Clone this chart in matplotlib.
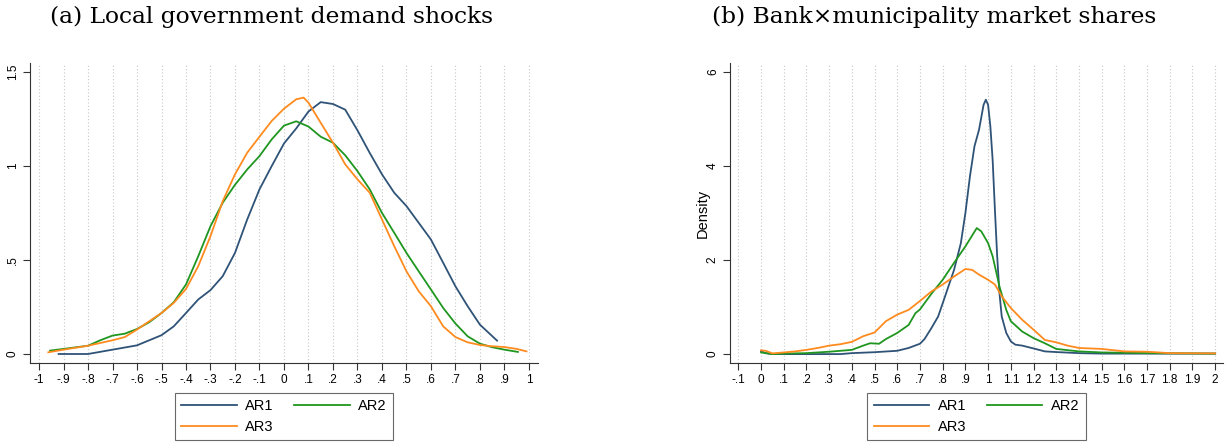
import matplotlib
matplotlib.use('Agg')
import matplotlib.pyplot as plt

# === Daten: Panel (a) ===
a_ar1_x = [-0.92, -0.8, -0.7, -0.6, -0.5, -0.45, -0.4, -0.35, -0.3, -0.25, -0.2, -0.15, -0.1, -0.05,
           0.0, 0.05, 0.1, 0.15, 0.2, 0.25, 0.3, 0.35, 0.4, 0.45, 0.5, 0.55, 0.6, 0.65, 0.7, 0.75, 0.8, 0.87]
a_ar1_y = [0.0, 0.0, 0.023, 0.046, 0.10, 0.147, 0.218, 0.29, 0.34, 0.414, 0.538, 0.716, 0.876, 1.0,
           1.12, 1.20, 1.29, 1.34, 1.33, 1.30, 1.19, 1.07, 0.956, 0.858, 0.787, 0.698, 0.609, 0.485, 0.36, 0.254, 0.156, 0.071]

a_ar2_x = [-0.955, -0.9, -0.8, -0.75, -0.7, -0.65, -0.6, -0.55, -0.5, -0.45, -0.4, -0.35, -0.3, -0.25, -0.2,
           -0.15, -0.1, -0.05, 0.0, 0.05, 0.1, 0.15, 0.2, 0.25, 0.3, 0.35, 0.4, 0.45, 0.5, 0.55, 0.6, 0.65,
           0.7, 0.75, 0.8, 0.85, 0.9, 0.955]
a_ar2_y = [0.018, 0.027, 0.044, 0.073, 0.098, 0.108, 0.133, 0.169, 0.218, 0.275, 0.37, 0.52, 0.68, 0.805, 0.90,
           0.982, 1.053, 1.142, 1.215, 1.238, 1.21, 1.156, 1.124, 1.057, 0.973, 0.876, 0.751, 0.645, 0.538, 0.44,
           0.343, 0.245, 0.162, 0.094, 0.055, 0.036, 0.023, 0.011]

a_ar3_x = [-0.962, -0.9, -0.8, -0.7, -0.65, -0.6, -0.55, -0.5, -0.45, -0.4, -0.35, -0.3, -0.25, -0.2, -0.15,
           -0.1, -0.05, 0.0, 0.05, 0.08, 0.1, 0.15, 0.2, 0.25, 0.3, 0.35, 0.4, 0.45, 0.5, 0.55, 0.6, 0.65,
           0.7, 0.75, 0.8, 0.85, 0.9, 0.95, 0.99]
a_ar3_y = [0.009, 0.023, 0.044, 0.073, 0.09, 0.13, 0.174, 0.218, 0.272, 0.346, 0.467, 0.627, 0.813, 0.956, 1.071,
           1.156, 1.24, 1.305, 1.355, 1.364, 1.337, 1.23, 1.124, 1.009, 0.929, 0.858, 0.716, 0.574, 0.44, 0.334,
           0.254, 0.147, 0.09, 0.062, 0.048, 0.041, 0.037, 0.027, 0.014]

# === Daten: Panel (b) ===
b_ar1_x = [0.0, 0.02, 0.05, 0.2, 0.35, 0.4, 0.5, 0.6, 0.65, 0.7, 0.72, 0.75, 0.78, 0.8, 0.85, 0.88, 0.9,
           0.92, 0.94, 0.96, 0.98, 0.99, 1.0, 1.01, 1.02, 1.03, 1.04, 1.05, 1.06, 1.08, 1.1, 1.12, 1.15,
           1.2, 1.25, 1.3, 1.4, 1.5, 1.7, 2.0]
b_ar1_y = [0.057, 0.02, 0.0, 0.0, 0.0, 0.02, 0.04, 0.07, 0.13, 0.22, 0.32, 0.55, 0.8, 1.08, 1.79, 2.36, 3.0,
           3.78, 4.42, 4.77, 5.3, 5.41, 5.3, 4.84, 4.13, 3.07, 2.08, 1.30, 0.80, 0.45, 0.27, 0.2, 0.18,
           0.12, 0.057, 0.043, 0.02, 0.01, 0.01, 0.01]

b_ar2_x = [0.0, 0.05, 0.1, 0.2, 0.3, 0.35, 0.4, 0.45, 0.48, 0.52, 0.55, 0.6, 0.65, 0.68, 0.7, 0.75, 0.8,
           0.85, 0.9, 0.95, 0.97, 1.0, 1.02, 1.05, 1.08, 1.1, 1.15, 1.2, 1.25, 1.3, 1.4, 1.5, 1.7, 2.0]
b_ar2_y = [0.035, 0.0, 0.01, 0.02, 0.05, 0.07, 0.09, 0.18, 0.23, 0.22, 0.32, 0.45, 0.62, 0.87, 0.95, 1.28, 1.58,
           1.94, 2.29, 2.68, 2.61, 2.36, 2.08, 1.44, 0.94, 0.70, 0.48, 0.34, 0.23, 0.11, 0.057, 0.035, 0.02, 0.01]

b_ar3_x = [0.0, 0.02, 0.05, 0.1, 0.15, 0.2, 0.25, 0.3, 0.35, 0.4, 0.45, 0.5, 0.55, 0.6, 0.65, 0.7, 0.75,
           0.8, 0.85, 0.9, 0.93, 0.96, 1.0, 1.03, 1.06, 1.1, 1.15, 1.2, 1.25, 1.3, 1.35, 1.4, 1.5, 1.6,
           1.7, 1.8, 2.0]
b_ar3_y = [0.08, 0.07, 0.015, 0.035, 0.057, 0.09, 0.13, 0.18, 0.21, 0.26, 0.38, 0.46, 0.70, 0.84, 0.94, 1.13, 1.33,
           1.48, 1.65, 1.81, 1.79, 1.69, 1.58, 1.48, 1.23, 0.98, 0.73, 0.52, 0.30, 0.25, 0.18, 0.13, 0.11, 0.057,
           0.05, 0.02, 0.015]

# Ticks
a_xticks = [round(-1 + 0.1 * i, 1) for i in range(21)]
a_xlabels = ['-1', '-.9', '-.8', '-.7', '-.6', '-.5', '-.4', '-.3', '-.2', '-.1', '0',
             '.1', '.2', '.3', '.4', '.5', '.6', '.7', '.8', '.9', '1']
a_yticks = [0, 0.5, 1, 1.5]
a_ylabels = ['0', '.5', '1', '1.5']

b_xticks = [round(-0.1 + 0.1 * i, 1) for i in range(22)]
b_xlabels = ['-.1', '0', '.1', '.2', '.3', '.4', '.5', '.6', '.7', '.8', '.9', '1',
             '1.1', '1.2', '1.3', '1.4', '1.5', '1.6', '1.7', '1.8', '1.9', '2']
b_yticks = [0, 2, 4, 6]
b_ylabels = ['0', '2', '4', '6']

farben = {'AR1': '#2f5377', 'AR2': '#1f961f', 'AR3': '#ff8b1f'}

plt.rcParams['font.family'] = ['Liberation Sans', 'DejaVu Sans']

fig = plt.figure(figsize=(12.28, 4.42), dpi=100)


def panel(pos, xlim, ylim, serien, xt, xl, yt, yl, titel, titel_x, ylabel=None):
    ax = fig.add_axes(pos)
    for name, (xs, ys) in serien.items():
        ax.plot(xs, ys, color=farben[name], lw=1.3, label=name)
    ax.set_xlim(*xlim)
    ax.set_ylim(*ylim)
    ax.set_xticks(xt)
    ax.set_xticklabels(xl, fontsize=8.5)
    ax.set_yticks(yt)
    ax.set_yticklabels(yl, fontsize=8.5, rotation=90, va='center')
    for v in xt:
        ax.axvline(v, color='#c8c8c8', lw=0.8, ls=(0, (1, 2)), zorder=0)
    ax.spines['top'].set_visible(False)
    ax.spines['right'].set_visible(False)
    ax.spines['left'].set_color('#333333')
    ax.spines['bottom'].set_color('#333333')
    ax.tick_params(direction='out', length=5, width=0.8, color='#333333', pad=3)
    if ylabel:
        ax.set_ylabel(ylabel, fontsize=10.5, labelpad=-2)
    fig.text(titel_x, 0.962, titel, family='DejaVu Serif', fontsize=16.8,
             ha='center', va='center')
    # Legende: AR1, AR2 oben, AR3 unten
    h, l = ax.get_legend_handles_labels()
    order = [0, 2, 1]
    leg = ax.legend([h[i] for i in order], [l[i] for i in order], ncol=2,
                    loc='upper center', bbox_to_anchor=(pos[0] + pos[2] / 2, 0.128),
                    bbox_transform=fig.transFigure, fontsize=10.5, frameon=True,
                    fancybox=False, handlelength=3.8, handletextpad=0.6,
                    columnspacing=1.4, labelspacing=0.45, borderpad=0.45)
    leg.get_frame().set_edgecolor('#444444')
    leg.get_frame().set_linewidth(0.8)
    return ax


panel([0.0244, 0.1787, 0.4137, 0.6787], (-1.037, 1.037), (-0.048, 1.548),
      {'AR1': (a_ar1_x, a_ar1_y), 'AR2': (a_ar2_x, a_ar2_y), 'AR3': (a_ar3_x, a_ar3_y)},
      a_xticks, a_xlabels, a_yticks, a_ylabels,
      '(a) Local government demand shocks', 0.221)

panel([0.5945, 0.1787, 0.4015, 0.6787], (-0.1366, 2.035), (-0.19, 6.19),
      {'AR1': (b_ar1_x, b_ar1_y), 'AR2': (b_ar2_x, b_ar2_y), 'AR3': (b_ar3_x, b_ar3_y)},
      b_xticks, b_xlabels, b_yticks, b_ylabels,
      '(b) Bank\u00d7municipality market shares', 0.761, ylabel='Density')

fig.savefig('out.png', dpi=100)
